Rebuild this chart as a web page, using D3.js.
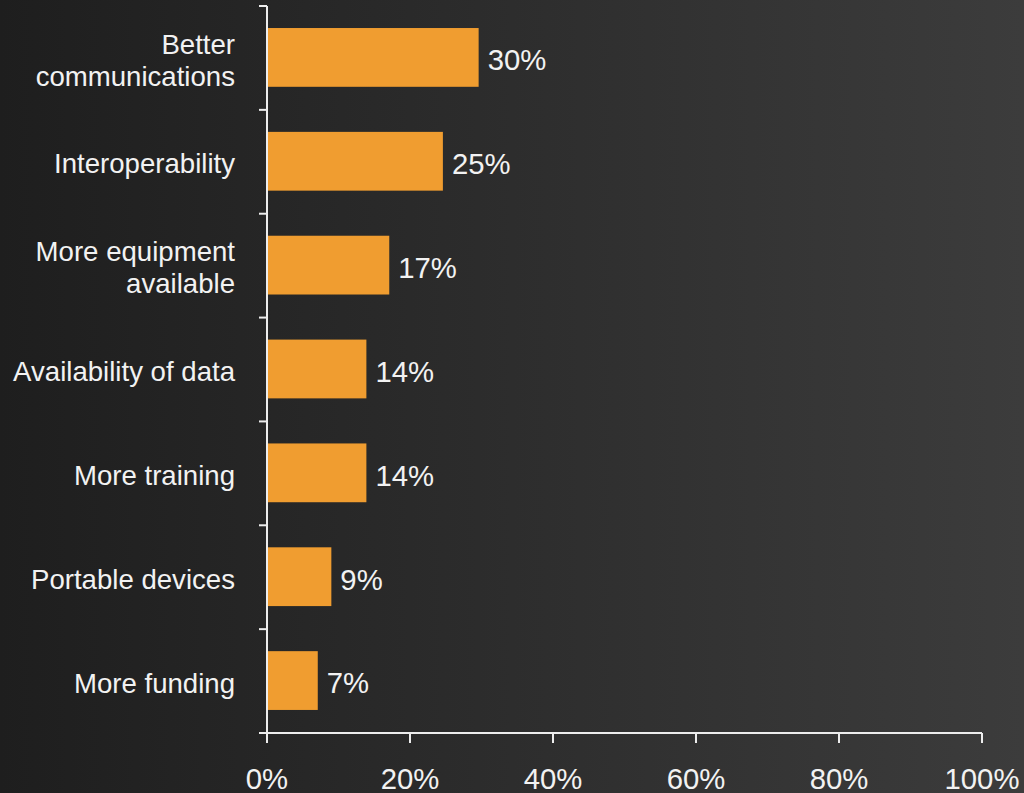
<!DOCTYPE html>
<html>
<head>
<meta charset="utf-8">
<script src="https://cdn.jsdelivr.net/npm/d3@7"></script>
<style>
html,body{margin:0;padding:0;overflow:hidden;}
svg{display:block;font-family:"Liberation Sans",Arial,sans-serif;}
</style>
</head>
<body>
<svg id="chart" width="1024" height="793"></svg>
<script>
const categories = [
  ["Better", "communications"],
  ["Interoperability"],
  ["More equipment", "available"],
  ["Availability of data"],
  ["More training"],
  ["Portable devices"],
  ["More funding"]
];
const values = [29.6, 24.6, 17.1, 13.9, 13.9, 9.0, 7.1];
const valueLabels = ["30%", "25%", "17%", "14%", "14%", "9%", "7%"];
const xTicks = [0, 20, 40, 60, 80, 100];

const W = 1024, H = 793;
const svg = d3.select("#chart");

const defs = svg.append("defs");
const grad = defs.append("linearGradient").attr("id","bg").attr("x1","0").attr("y1","0").attr("x2","1").attr("y2","0");
grad.append("stop").attr("offset","0").attr("stop-color","#1e1e1e");
grad.append("stop").attr("offset","1").attr("stop-color","#3c3c3c");
svg.append("rect").attr("width",W).attr("height",H).attr("fill","url(#bg)");

const x0 = 267, x1 = 982, yTop = 6, yBot = 733;
const x = d3.scaleLinear().domain([0,100]).range([x0,x1]);
const idx = d3.range(categories.length);
const y = d3.scaleBand().domain(idx).range([yTop,yBot]).padding(0);

const axisColor = "#ededed";
const textColor = "#f2f2f2";

// bars
svg.append("g").selectAll("rect").data(idx).join("rect")
  .attr("x", x(0))
  .attr("y", i => y(i) + y.bandwidth()*0.212)
  .attr("width", i => x(values[i]) - x(0))
  .attr("height", y.bandwidth()*0.566)
  .attr("fill", "#f09d30");

// value labels
svg.append("g").selectAll("text").data(idx).join("text")
  .attr("x", i => x(values[i]) + 9)
  .attr("y", i => y(i) + y.bandwidth()/2)
  .attr("dy", "0.42em")
  .attr("font-size", 29.3)
  .attr("fill", textColor)
  .text(i => valueLabels[i]);

// category labels
const cl = svg.append("g").selectAll("text").data(idx).join("text")
  .attr("x", 235)
  .attr("y", i => y(i) + y.bandwidth()/2)
  .attr("text-anchor", "end")
  .attr("font-size", 27.6)
  .attr("fill", textColor);
cl.each(function(i){
  const lines = categories[i];
  const lh = 32;
  const t = d3.select(this);
  lines.forEach((ln, k) => {
    t.append("tspan").attr("x", 235)
      .attr("y", y(i) + y.bandwidth()/2 + (k - (lines.length-1)/2)*lh)
      .attr("dy", "0.42em")
      .text(ln);
  });
});

// y axis line and ticks at band boundaries
const ax = svg.append("g").attr("stroke", axisColor).attr("stroke-width", 2);
ax.append("line").attr("x1", x0).attr("x2", x0).attr("y1", yTop).attr("y2", yBot + 10);
const bounds = idx.map(i => y(i)).concat([yBot]);
ax.selectAll("line.yt").data(bounds).join("line").attr("class","yt")
  .attr("x1", x0 - 8).attr("x2", x0).attr("y1", d => d).attr("y2", d => d);

// x axis
ax.append("line").attr("x1", x0 - 8).attr("x2", x1).attr("y1", yBot).attr("y2", yBot);
ax.selectAll("line.xt").data(xTicks).join("line").attr("class","xt")
  .attr("x1", d => x(d)).attr("x2", d => x(d)).attr("y1", yBot).attr("y2", yBot + 10);

svg.append("g").selectAll("text").data(xTicks).join("text")
  .attr("x", d => x(d))
  .attr("y", 789)
  .attr("text-anchor", "middle")
  .attr("font-size", 29.3)
  .attr("fill", textColor)
  .text(d => d + "%");
</script>
</body>
</html>
